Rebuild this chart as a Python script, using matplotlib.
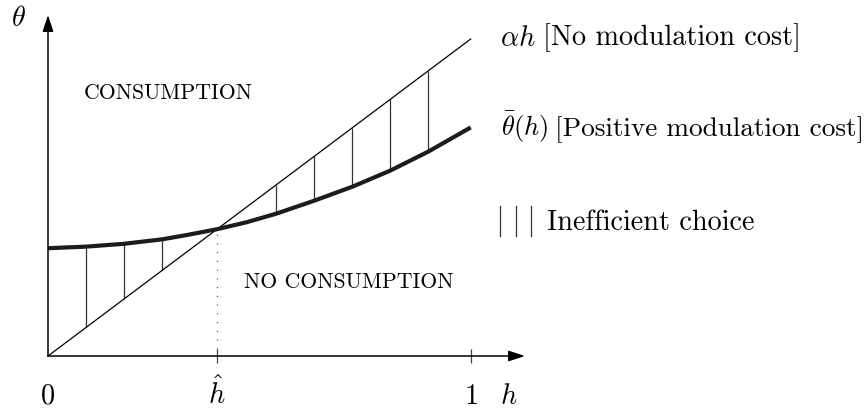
import matplotlib
matplotlib.use("Agg")
import matplotlib.pyplot as plt

plt.rcParams["mathtext.fontset"] = "cm"
plt.rcParams["font.family"] = ["cmr10", "DejaVu Serif"]
plt.rcParams["axes.formatter.use_mathtext"] = True

# Model quantities (h on [0, 1], theta normalised so that alpha = 1)
alpha = 1.0
h_hat = 0.40
h_curve = [0.0, 0.09, 0.18, 0.27, 0.33, 0.40, 0.47, 0.54, 0.63, 0.72, 0.81, 0.90, 1.0]
theta_bar = [0.340, 0.345, 0.354, 0.368, 0.382, 0.400, 0.422, 0.449, 0.490, 0.534,
             0.585, 0.645, 0.721]
h_hatch = [0.09, 0.18, 0.27, 0.54, 0.63, 0.72, 0.81, 0.90]
tick_positions = [h_hat, 1.0]
tick_labels = [r"$\hat{h}$", r"$1$"]

W, H = 864, 410
fig = plt.figure(figsize=(W / 100, H / 100), dpi=100)
ax = fig.add_axes([0, 0, 1, 1])
ax.set_axis_off()

# pixel frame: h=0 -> x=48, h=1 -> x=470.7 ; theta=0 -> y=357, theta=1 -> y=40 (from top)
x0, xs = 48.0, 422.7
y0, ys = 357.0, 317.0
ax.set_xlim(-x0 / xs, (W - x0) / xs)
ax.set_ylim((y0 - H) / ys, y0 / ys)

def px(x, y):
    """figure-pixel (from top-left) -> figure fraction"""
    return x / W, 1 - y / H

ft = fig.transFigure
fs = 20.3
fs_sc = 15.7

# axes with arrowheads
x_end = (525 - x0) / xs
y_end = (y0 - 16) / ys
arrow = dict(arrowstyle="-|>,head_length=0.55,head_width=0.18", lw=1.1,
             color="black", shrinkA=0, shrinkB=0, mutation_scale=18)
ax.annotate("", xy=(x_end, 0), xytext=(0, 0), arrowprops=arrow)
ax.annotate("", xy=(0, y_end), xytext=(0, 0), arrowprops=arrow)

# ticks on the h axis
tk = 7 / ys
for t in tick_positions:
    ax.plot([t, t], [-tk, tk], color="#444444", lw=0.9, solid_capstyle="butt")

# dotted guide at h_hat
ax.plot([h_hat, h_hat], [tk, alpha * h_hat], color="#555555", lw=0.9,
        linestyle=(0, (1, 6)))

# inefficient-choice hatching between alpha*h and theta_bar(h)
for hx in h_hatch:
    tb = theta_bar[h_curve.index(hx)]
    ax.plot([hx, hx], [alpha * hx, tb], color="#333333", lw=0.9,
            solid_capstyle="butt")

# alpha*h line
ax.plot([0, 1], [0, alpha], color="black", lw=0.9)

# theta_bar(h) curve
ax.plot(h_curve, theta_bar, color="#1c1c1c", lw=3.0, solid_capstyle="butt",
        solid_joinstyle="round")

# region labels
fig.text(*px(168, 93), "CONSUMPTION", fontsize=fs_sc, ha="center",
         va="center", transform=ft)
fig.text(*px(349, 282), "NO CONSUMPTION", fontsize=fs_sc, ha="center",
         va="center", transform=ft)

# axis labels
fig.text(*px(18, 26), r"$\theta$", fontsize=fs, ha="center", va="baseline",
         transform=ft)
fig.text(*px(47.5, 404), r"$0$", fontsize=fs, ha="center", va="baseline",
         transform=ft)
for t, lab in zip(tick_positions, tick_labels):
    fig.text(x0 / W + t * xs / W, 1 - 404 / H, lab, fontsize=fs, ha="center",
             va="baseline", transform=ft)
fig.text(*px(509, 404), r"$h$", fontsize=fs, ha="center", va="baseline",
         transform=ft)

# key
fig.text(*px(500, 45.5), r"$\alpha h$", fontsize=fs, ha="left",
         va="baseline", transform=ft)
fig.text(*px(543, 45.5), "[No modulation cost]", fontsize=fs, ha="left",
         va="baseline", transform=ft)
fig.text(*px(500.7, 136), r"$\bar{\theta}(h)$", fontsize=19.0, ha="left",
         va="baseline", transform=ft)
fig.text(*px(555, 136), "[Positive modulation cost]", fontsize=19.6,
         ha="left", va="baseline", transform=ft)
for xk in (500, 516, 531):
    fig.add_artist(plt.Line2D([xk / W, xk / W], [1 - 207 / H, 1 - 237 / H],
                              color="#333333", lw=0.9, transform=ft))
fig.text(*px(547, 230), "Inefficient choice", fontsize=fs, ha="left",
         va="baseline", transform=ft)

fig.savefig("out.png", dpi=100)
